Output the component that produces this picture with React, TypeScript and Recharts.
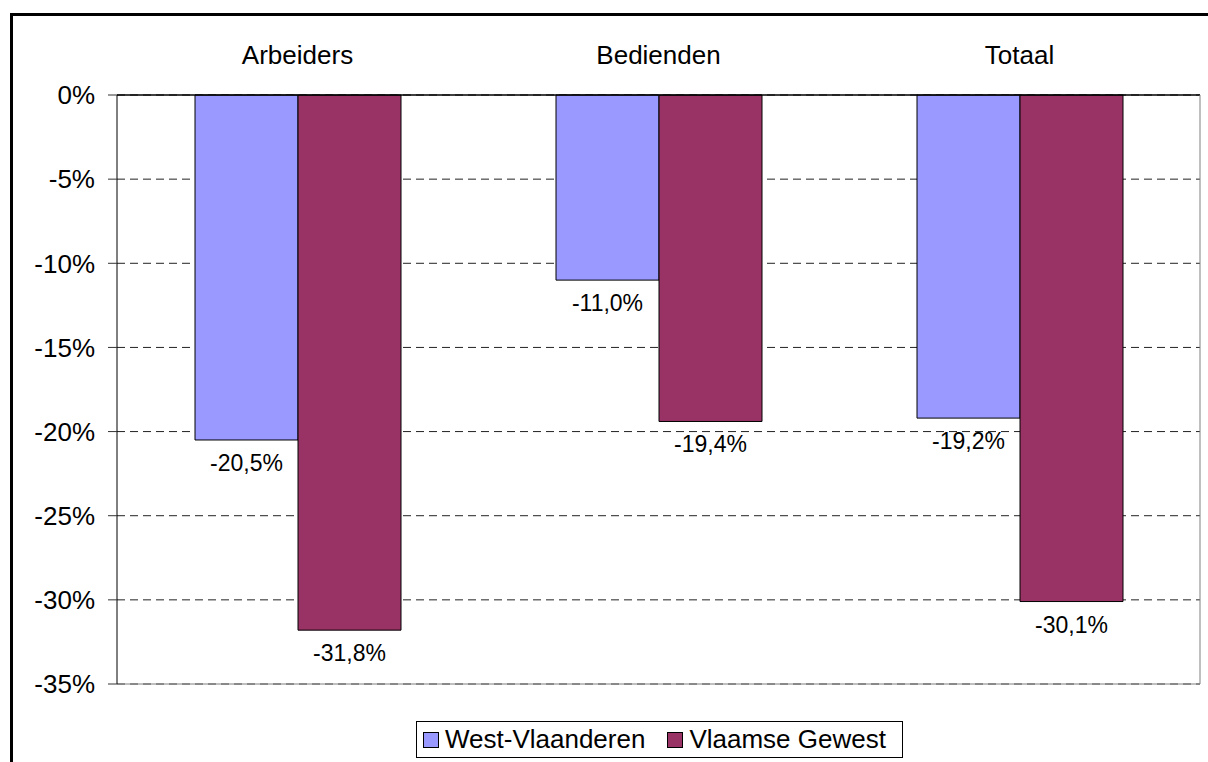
import { BarChart, Bar, XAxis, YAxis, CartesianGrid, ReferenceLine, LabelList } from 'recharts';

const categories = ['Arbeiders', 'Bedienden', 'Totaal'];
const westVlaanderen = [-20.5, -11.0, -19.2];
const vlaamseGewest = [-31.8, -19.4, -30.1];
const yTicks = [0, -5, -10, -15, -20, -25, -30, -35];
const boundaryTicks = [1, 2];
const seriesNames = ['West-Vlaanderen', 'Vlaamse Gewest'];
const seriesColors = ['#9999FF', '#993366'];

const data = categories.map((name, i) => ({
  name,
  west: westVlaanderen[i],
  vlaams: vlaamseGewest[i],
}));

const FONT = '"Liberation Sans", Arial, sans-serif';

const fmt = (v: number) => `${Number(v).toFixed(1).replace('.', ',')}%`;

// eslint-disable-next-line @typescript-eslint/no-explicit-any
const renderLabel = (props: any) => {
  const vb = props.viewBox ?? props;
  const { x, y, width, height } = vb;
  const bottom = Math.max(y, y + height);
  return (
    <text x={x + width / 2} y={bottom + 31} textAnchor="middle" fontSize={23} fill="#000" fontFamily={FONT}>
      {fmt(props.value)}
    </text>
  );
};

export default function App() {
  return (
    <div style={{ position: 'absolute', left: 0, top: 0, width: 1208, height: 762, overflow: 'hidden', background: '#fff', fontFamily: FONT }}>
      <div
        style={{
          position: 'absolute',
          left: 10,
          top: 13,
          width: 1400,
          height: 1000,
          border: '3px solid #000',
        }}
      />
      <div style={{ position: 'absolute', left: 0, top: 0 }}>
        <BarChart
          width={1208}
          height={762}
          data={data}
          margin={{ top: 0, right: 0, bottom: 78, left: 0 }}
          barGap={0}
          barSize={103}
        >
          <CartesianGrid yAxisId="left" vertical={false} stroke="#222" strokeDasharray="8 5" />
          {/* category boundary marks hanging under the 0% line */}
          <XAxis
            xAxisId="bounds"
            type="number"
            orientation="top"
            height={0}
            mirror
            domain={[0, 3]}
            ticks={boundaryTicks}
            axisLine={false}
            tickLine={{ stroke: '#666', strokeWidth: 2 }}
            tickSize={8}
            tick={() => <g />}
          />
          <XAxis
            dataKey="name"
            orientation="top"
            height={95}
            axisLine={{ stroke: '#000', strokeWidth: 1.5 }}
            tickLine={false}
            tickSize={6}
            tickMargin={25}
            tick={{ fill: '#000', fontSize: 26, fontFamily: FONT }}
          />
          <YAxis
            yAxisId="left"
            width={117}
            domain={[-35, 0]}
            ticks={yTicks}
            interval={0}
            tickFormatter={(v: number) => `${v}%`}
            axisLine={{ stroke: '#000' }}
            tickLine={{ stroke: '#333' }}
            tickSize={9}
            tickMargin={13}
            tick={{ fill: '#000', fontSize: 26, fontFamily: FONT }}
          />
          <YAxis
            yAxisId="right"
            orientation="right"
            width={8}
            domain={[-35, 0]}
            tick={false}
            tickLine={false}
            axisLine={{ stroke: '#808080' }}
          />
          <ReferenceLine yAxisId="left" y={-35} stroke="#808080" />
          <Bar yAxisId="left" dataKey="west" name={seriesNames[0]} fill={seriesColors[0]} stroke="#000" strokeWidth={1} isAnimationActive={false}>
            <LabelList dataKey="west" content={renderLabel} />
          </Bar>
          <Bar yAxisId="left" dataKey="vlaams" name={seriesNames[1]} fill={seriesColors[1]} stroke="#000" strokeWidth={1} isAnimationActive={false}>
            <LabelList dataKey="vlaams" content={renderLabel} />
          </Bar>
        </BarChart>
      </div>
      <div
        style={{
          position: 'absolute',
          left: 416,
          top: 721,
          width: 487,
          height: 37,
          border: '1px solid #000',
          boxSizing: 'border-box',
          display: 'flex',
          alignItems: 'center',
          paddingLeft: 6,
          fontSize: 26,
          color: '#000',
          whiteSpace: 'nowrap',
        }}
      >
        {seriesNames.map((n, i) => (
          <div key={n} style={{ display: 'flex', alignItems: 'center', marginRight: i === 0 ? 22 : 0 }}>
            <span
              style={{
                display: 'inline-block',
                width: 16,
                height: 16,
                background: seriesColors[i],
                border: '1px solid #000',
                boxSizing: 'border-box',
                marginRight: 6,
              }}
            />
            <span>{n}</span>
          </div>
        ))}
      </div>
    </div>
  );
}
